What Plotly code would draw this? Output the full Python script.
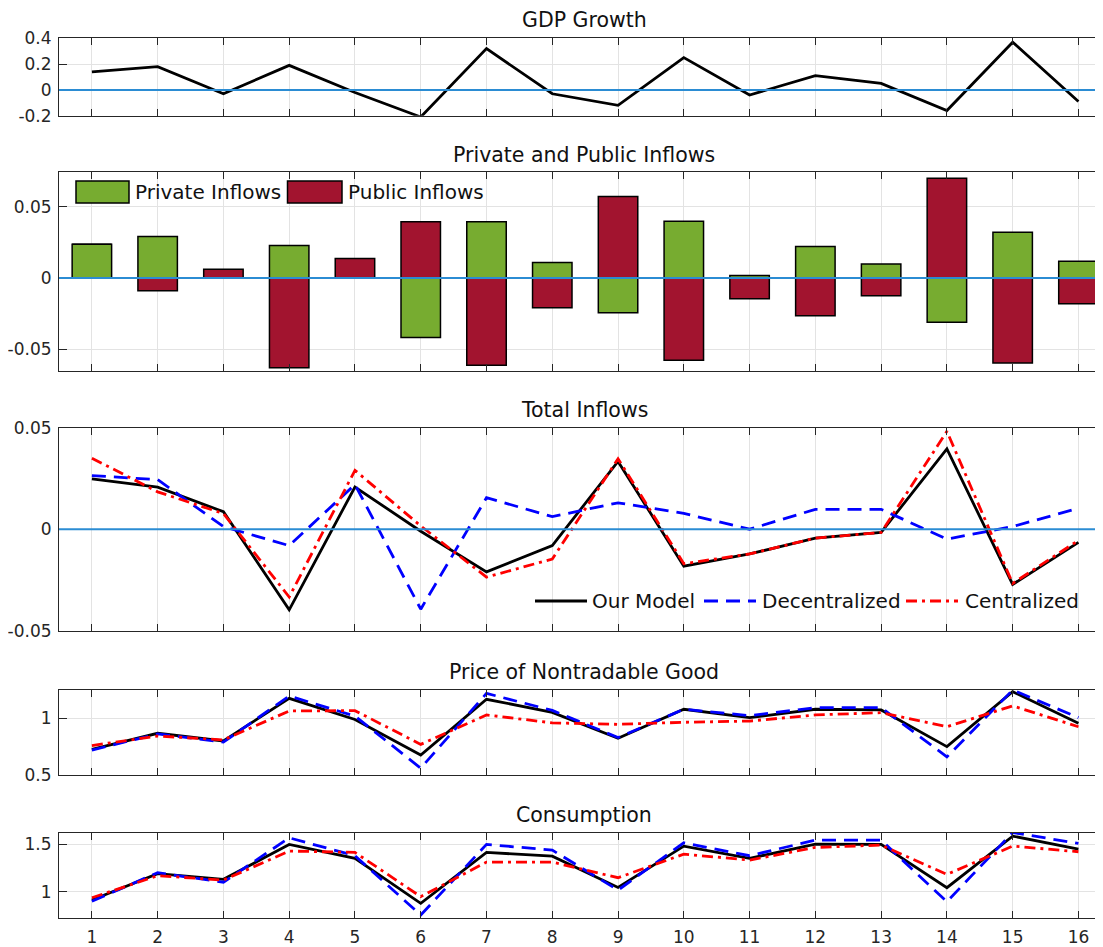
import plotly.graph_objects as go

# ---------------- data ----------------
periods = list(range(1, 17))
tick_labels = [str(p) for p in periods]

gdp_growth = [0.14, 0.18, -0.03, 0.19, -0.02, -0.21, 0.32, -0.03,
              -0.12, 0.25, -0.04, 0.11, 0.05, -0.16, 0.37, -0.09]

private_inflows = [0.0236, 0.029, 0.0, 0.0227, 0.0, -0.0418, 0.0395, 0.0108,
                   -0.0243, 0.0398, 0.0017, 0.022, 0.0098, -0.031, 0.032, 0.0117]
public_inflows = [0.0, -0.0089, 0.0061, -0.063, 0.0136, 0.0395, -0.0612, -0.0208,
                  0.0571, -0.0577, -0.0145, -0.0264, -0.0124, 0.0699, -0.0596, -0.018]

total_our = [0.0248, 0.0207, 0.0086, -0.0397, 0.0208, -0.001, -0.021, -0.0081,
             0.0334, -0.0182, -0.0122, -0.0044, -0.0016, 0.0396, -0.0272, -0.0065]
total_dec = [0.0264, 0.0244, 0.0013, -0.0081, 0.022, -0.0394, 0.0155, 0.0062,
             0.013, 0.0078, 0.0, 0.0098, 0.0098, -0.0049, 0.0013, 0.0103]
total_cen = [0.035, 0.0184, 0.0077, -0.0334, 0.029, 0.0016, -0.0236, -0.0147,
             0.0347, -0.017, -0.0122, -0.0044, -0.0016, 0.0482, -0.0267, -0.0055]

price_our = [0.726, 0.868, 0.80, 1.176, 0.99, 0.676, 1.168, 1.053,
             0.824, 1.08, 1.006, 1.08, 1.074, 0.75, 1.235, 0.956]
price_dec = [0.72, 0.862, 0.79, 1.197, 1.02, 0.56, 1.22, 1.07,
             0.83, 1.08, 1.024, 1.094, 1.094, 0.66, 1.25, 1.006]
price_cen = [0.76, 0.844, 0.81, 1.065, 1.068, 0.77, 1.03, 0.96,
             0.947, 0.965, 0.976, 1.03, 1.05, 0.926, 1.11, 0.926]

cons_our = [0.913, 1.19, 1.13, 1.497, 1.35, 0.878, 1.413, 1.374,
            1.045, 1.479, 1.35, 1.5, 1.497, 1.042, 1.584, 1.448]
cons_dec = [0.90, 1.2, 1.1, 1.566, 1.378, 0.755, 1.497, 1.437,
            1.017, 1.514, 1.378, 1.542, 1.542, 0.895, 1.622, 1.507]
cons_cen = [0.937, 1.168, 1.122, 1.427, 1.413, 0.948, 1.311, 1.311,
            1.147, 1.395, 1.332, 1.465, 1.49, 1.182, 1.479, 1.42]

series_names = ["Our Model", "Decentralized", "Centralized"]
bar_names = ["Private Inflows", "Public Inflows"]
panel_titles = ["GDP Growth", "Private and Public Inflows", "Total Inflows",
                "Price of Nontradable Good", "Consumption"]

# ---------------- styling ----------------
PAGE_OFF = 8                      # default body margin of the html page
W, H = 1103 - PAGE_OFF, 947 - PAGE_OFF
FONT = "DejaVu Sans"
AX_COL = "#262626"
GRID_COL = "#e3e3e3"
ZERO_COL = "#2b8cd3"
GREEN = "#77AC30"
RED_BAR = "#A2142F"
LINE_STYLES = [
    dict(color="black", width=2.8, dash="solid"),
    dict(color="#0000ff", width=2.8, dash="14px,8px"),
    dict(color="#ff0000", width=2.8, dash="11px,5px,3px,5px"),
]

def fx(px):
    return (px - PAGE_OFF) / W

def fy(px):
    return 1 - (px - PAGE_OFF) / H

# panel vertical extents (page pixels: top, bottom)
panels = [(38.3, 115.7), (171.7, 370.7), (427.7, 630.7), (690.0, 775.0), (832.7, 917.7)]
title_y = [20, 155, 410, 672, 815]
y_ranges = [[-0.2, 0.4], [-0.065, 0.0745], [-0.05, 0.05], [0.5, 1.25], [0.727, 1.62]]
y_ticks = [[-0.2, 0, 0.2, 0.4], [-0.05, 0, 0.05], [-0.05, 0, 0.05], [0.5, 1], [1, 1.5]]
y_ticktext = [["-0.2", "0", "0.2", "0.4"], ["-0.05", "0", "0.05"], ["-0.05", "0", "0.05"],
              ["0.5", "1"], ["1", "1.5"]]

x_left_px = 59
x_unit_px = 65.77
x_range = [0.5, 0.5 + (1103 - x_left_px) / x_unit_px]

fig = go.Figure()

# GDP growth
fig.add_trace(go.Scatter(x=periods, y=gdp_growth, mode="lines",
                         line=dict(color="black", width=2.8),
                         xaxis="x", yaxis="y", showlegend=False))

# bars
fig.add_trace(go.Bar(x=periods, y=private_inflows, name=bar_names[0], width=0.6,
                     marker=dict(color=GREEN, line=dict(color="black", width=1.5)),
                     xaxis="x2", yaxis="y2", showlegend=False))
fig.add_trace(go.Bar(x=periods, y=public_inflows, name=bar_names[1], width=0.6,
                     marker=dict(color=RED_BAR, line=dict(color="black", width=1.5)),
                     xaxis="x2", yaxis="y2", showlegend=False))

# line panels
line_panels = [(3, [total_our, total_dec, total_cen]),
               (4, [price_our, price_dec, price_cen]),
               (5, [cons_our, cons_dec, cons_cen])]
for idx, data in line_panels:
    for name, vals, st in zip(series_names, data, LINE_STYLES):
        fig.add_trace(go.Scatter(x=periods, y=vals, mode="lines", name=name,
                                 line=st, xaxis=f"x{idx}", yaxis=f"y{idx}",
                                 showlegend=False))

layout = dict(
    width=W, height=H,
    margin=dict(l=0, r=0, t=0, b=0),
    paper_bgcolor="white", plot_bgcolor="white",
    barmode="relative",
    font=dict(family=FONT, size=17, color=AX_COL),
    showlegend=False,
)

for i, (top, bot) in enumerate(panels):
    n = i + 1
    xk = "xaxis" if n == 1 else f"xaxis{n}"
    yk = "yaxis" if n == 1 else f"yaxis{n}"
    ya = "y" if n == 1 else f"y{n}"
    xa = "x" if n == 1 else f"x{n}"
    layout[xk] = dict(
        domain=[fx(x_left_px), 1.0], anchor=ya, range=x_range,
        tickvals=periods, ticktext=tick_labels, showticklabels=(n == 5),
        ticks="inside", ticklen=7, tickcolor=AX_COL, tickwidth=1,
        showline=True, linecolor=AX_COL, linewidth=1, mirror="ticks",
        showgrid=True, gridcolor=GRID_COL, gridwidth=1, zeroline=False,
        tickfont=dict(family=FONT, size=17, color=AX_COL),
        ticklabelstandoff=4, automargin=False, fixedrange=True,
    )
    layout[yk] = dict(
        domain=[fy(bot), fy(top)], anchor=xa, range=y_ranges[i],
        tickvals=y_ticks[i], ticktext=y_ticktext[i],
        ticks="inside", ticklen=8, tickcolor=AX_COL, tickwidth=1,
        showline=True, linecolor=AX_COL, linewidth=1, mirror="ticks",
        showgrid=True, gridcolor=GRID_COL, gridwidth=1, zeroline=False,
        tickfont=dict(family=FONT, size=17, color=AX_COL),
        ticklabelstandoff=3, automargin=False, fixedrange=True,
    )

fig.update_layout(**layout)

# zero reference lines
shapes = []
for n in (1, 2, 3):
    xa = "x" if n == 1 else f"x{n}"
    ya = "y" if n == 1 else f"y{n}"
    shapes.append(dict(type="line", xref=f"{xa} domain", yref=ya, x0=0, x1=1, y0=0, y1=0,
                       line=dict(color=ZERO_COL, width=2), layer="above"))

annotations = []
TXT_SIZE = 20.5
# titles
for t, yp in zip(panel_titles, title_y):
    annotations.append(dict(text=t, xref="paper", yref="paper", x=fx(584), y=fy(yp),
                            xanchor="center", yanchor="middle", showarrow=False,
                            font=dict(family=FONT, size=TXT_SIZE, color="#111111")))

# bar legend (top-left inside panel 2)
bar_leg = [(76, 129, 133, GREEN, bar_names[0]), (287.5, 342, 346, RED_BAR, bar_names[1])]
for x0, x1, xt, col, name in bar_leg:
    shapes.append(dict(type="rect", xref="paper", yref="paper",
                       x0=fx(x0), x1=fx(x1), y0=fy(203), y1=fy(181),
                       fillcolor=col, line=dict(color="black", width=1.5), layer="above"))
    annotations.append(dict(text=name, xref="paper", yref="paper", x=fx(xt), y=fy(192),
                            xanchor="left", yanchor="middle", showarrow=False,
                            font=dict(family=FONT, size=TXT_SIZE - 0.5, color="#111111")))

# line legend (bottom-right inside panel 3)
line_leg = [(535, 587, 590), (704, 756, 760), (906, 958, 963)]
for (x0, x1, xt), name, st in zip(line_leg, series_names, LINE_STYLES):
    shapes.append(dict(type="line", xref="paper", yref="paper",
                       x0=fx(x0), x1=fx(x1), y0=fy(601), y1=fy(601),
                       line=dict(color=st["color"], width=st["width"], dash=st["dash"]),
                       layer="above"))
    annotations.append(dict(text=name, xref="paper", yref="paper", x=fx(xt), y=fy(601),
                            xanchor="left", yanchor="middle", showarrow=False,
                            font=dict(family=FONT, size=TXT_SIZE - 0.5, color="#111111")))

fig.update_layout(shapes=shapes, annotations=annotations)

fig.write_html("out.html", config={"displayModeBar": False})
